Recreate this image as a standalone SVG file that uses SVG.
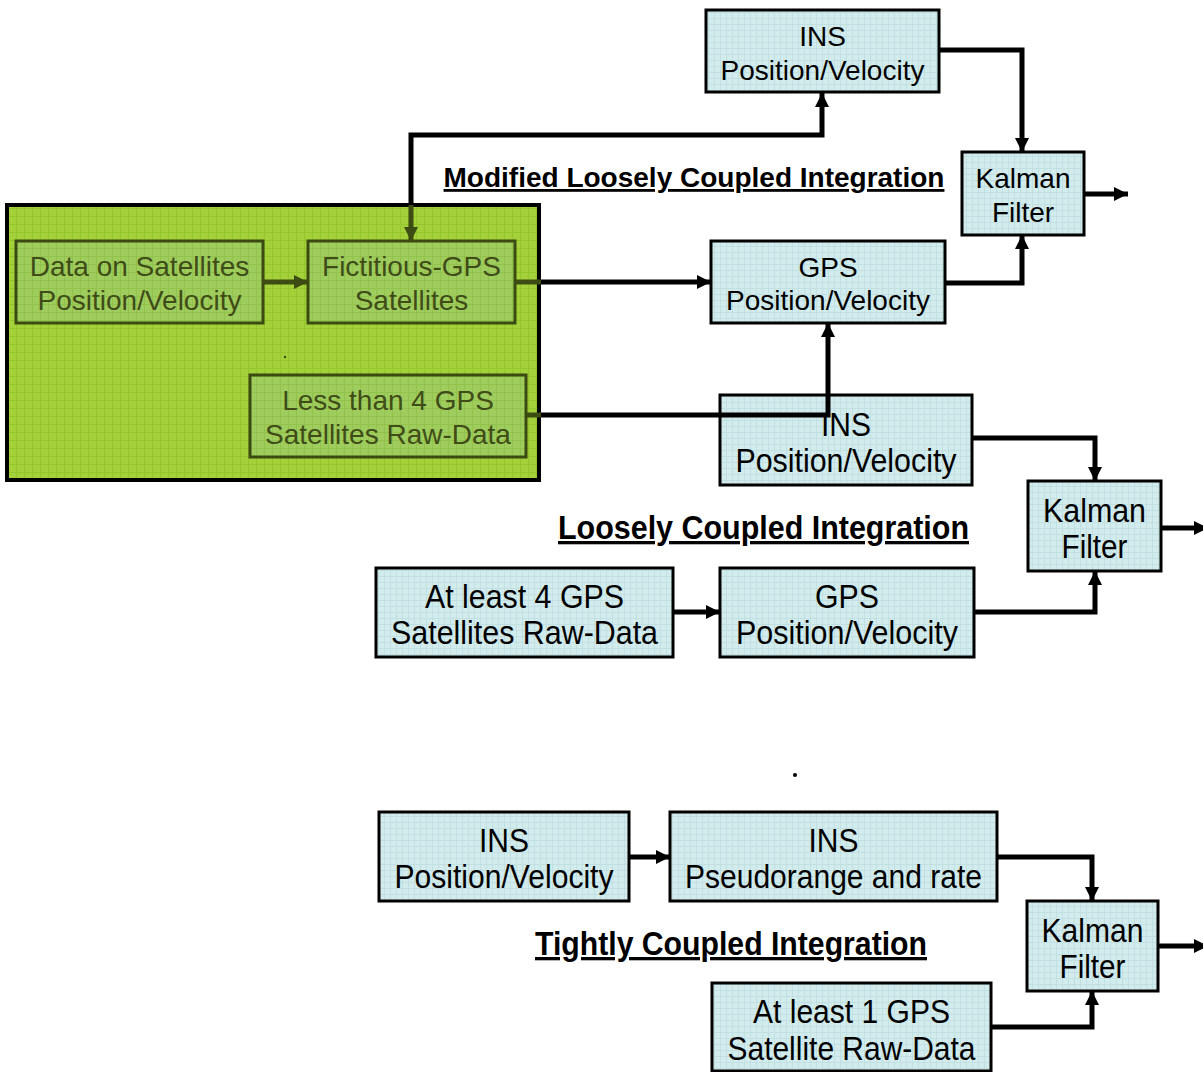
<svg xmlns="http://www.w3.org/2000/svg" width="1203" height="1072" viewBox="0 0 1203 1072">
<style>
text{font-family:"Liberation Sans",Arial,sans-serif;text-anchor:middle;fill:#000}
.t28{font-size:28px}
.t33{font-size:33px}
.title{font-weight:bold;text-decoration:underline}
.box{fill:url(#cyan);stroke:#000;stroke-width:3}
.gbox{fill:url(#gin);stroke:#3a4a10;stroke-width:3}
.gt{fill:#3f4c18;font-size:28px}
.con{fill:none;stroke:#000;stroke-width:5;stroke-linejoin:miter}
.ocon{fill:none;stroke:#3d4c12;stroke-width:5}
</style>
<defs>
<pattern id="cyan" width="6" height="6" patternUnits="userSpaceOnUse">
<rect width="6" height="6" fill="#d2ebec"/>
<path d="M0,0.5H6M0.5,0V6" stroke="#c2e0e2" stroke-width="1"/>
</pattern>
<pattern id="green" width="8" height="8" patternUnits="userSpaceOnUse">
<rect width="8" height="8" fill="#a4d13a"/>
<path d="M0,0.5H8M0.5,0V8" stroke="#94c52c" stroke-width="1"/>
</pattern>
<pattern id="gin" width="8" height="8" patternUnits="userSpaceOnUse">
<rect width="8" height="8" fill="#9ecd5e"/>
<path d="M0,0.5H8M0.5,0V8" stroke="#92c24c" stroke-width="1"/>
</pattern>
<marker id="ah" markerWidth="15" markerHeight="15" refX="14" refY="7.5" orient="auto" markerUnits="userSpaceOnUse">
<path d="M0,0.5L14,7.5L0,14.5z" fill="#000"/>
</marker>
<marker id="oah" markerWidth="15" markerHeight="15" refX="14" refY="7.5" orient="auto" markerUnits="userSpaceOnUse">
<path d="M0,0.5L14,7.5L0,14.5z" fill="#3d4c12"/>
</marker>
</defs>

<g id="green-region">
<rect x="7" y="205" width="532" height="275" fill="url(#green)" stroke="#000" stroke-width="4"/>
<circle cx="285" cy="357" r="1.2" fill="#3d4c12"/>
</g>

<g id="data-on-satellites">
<rect class="gbox" x="16" y="241" width="247" height="82"/>
<text class="gt" x="139.5" y="276">Data on Satellites</text>
<text class="gt" x="139.5" y="310">Position/Velocity</text>
</g>
<g id="fictitious-gps">
<rect class="gbox" x="308" y="241" width="207" height="82"/>
<text class="gt" x="411.5" y="276">Fictitious-GPS</text>
<text class="gt" x="411.5" y="310">Satellites</text>
</g>
<g id="less-than-4">
<rect class="gbox" x="250" y="375" width="276" height="82"/>
<text class="gt" x="388" y="410">Less than 4 GPS</text>
<text class="gt" x="388" y="444">Satellites Raw-Data</text>
</g>

<g id="ins-top">
<rect class="box" x="706" y="10" width="233" height="82"/>
<text class="t28" x="822.5" y="46">INS</text>
<text class="t28" x="822.5" y="80">Position/Velocity</text>
</g>
<g id="kalman-top">
<rect class="box" x="962" y="152" width="122" height="83"/>
<text class="t28" x="1023" y="188">Kalman</text>
<text class="t28" x="1023" y="222">Filter</text>
</g>
<g id="gps-top">
<rect class="box" x="711" y="241" width="234" height="82"/>
<text class="t28" x="828" y="277">GPS</text>
<text class="t28" x="828" y="310">Position/Velocity</text>
</g>
<g id="title-modified">
<text class="t28 title" x="694" y="187">Modified Loosely Coupled Integration</text>
</g>

<g id="ins-mid">
<rect class="box" x="720" y="395" width="252" height="90"/>
<text class="t33" x="846" y="436" textLength="50" lengthAdjust="spacingAndGlyphs">INS</text>
<text class="t33" x="846" y="472" textLength="221" lengthAdjust="spacingAndGlyphs">Position/Velocity</text>
</g>
<g id="kalman-mid">
<rect class="box" x="1028" y="481" width="133" height="90"/>
<text class="t33" x="1094.5" y="522" textLength="103" lengthAdjust="spacingAndGlyphs">Kalman</text>
<text class="t33" x="1094.5" y="558" textLength="66" lengthAdjust="spacingAndGlyphs">Filter</text>
</g>
<g id="title-loosely">
<text class="t33 title" x="763.5" y="539" textLength="411" lengthAdjust="spacingAndGlyphs">Loosely Coupled Integration</text>
</g>
<g id="atleast4">
<rect class="box" x="376" y="568" width="297" height="89"/>
<text class="t33" x="524.5" y="608" textLength="199" lengthAdjust="spacingAndGlyphs">At least 4 GPS</text>
<text class="t33" x="524.5" y="644" textLength="267" lengthAdjust="spacingAndGlyphs">Satellites Raw-Data</text>
</g>
<g id="gps-mid">
<rect class="box" x="720" y="568" width="254" height="89"/>
<text class="t33" x="847" y="608" textLength="64" lengthAdjust="spacingAndGlyphs">GPS</text>
<text class="t33" x="847" y="644" textLength="222" lengthAdjust="spacingAndGlyphs">Position/Velocity</text>
</g>

<g id="ins-bottom">
<rect class="box" x="379" y="812" width="250" height="89"/>
<text class="t33" x="504" y="852" textLength="50" lengthAdjust="spacingAndGlyphs">INS</text>
<text class="t33" x="504" y="888" textLength="219" lengthAdjust="spacingAndGlyphs">Position/Velocity</text>
</g>
<g id="ins-pseudorange">
<rect class="box" x="670" y="812" width="327" height="89"/>
<text class="t33" x="833.5" y="852" textLength="50" lengthAdjust="spacingAndGlyphs">INS</text>
<text class="t33" x="833.5" y="888" textLength="297" lengthAdjust="spacingAndGlyphs">Pseudorange and rate</text>
</g>
<g id="kalman-bottom">
<rect class="box" x="1027" y="901" width="131" height="90"/>
<text class="t33" x="1092.5" y="942" textLength="102" lengthAdjust="spacingAndGlyphs">Kalman</text>
<text class="t33" x="1092.5" y="978" textLength="66" lengthAdjust="spacingAndGlyphs">Filter</text>
</g>
<g id="title-tightly">
<text class="t33 title" x="731" y="955" textLength="392" lengthAdjust="spacingAndGlyphs">Tightly Coupled Integration</text>
</g>
<g id="atleast1">
<rect class="box" x="712" y="983" width="279" height="88"/>
<text class="t33" x="851.5" y="1023" textLength="197" lengthAdjust="spacingAndGlyphs">At least 1 GPS</text>
<text class="t33" x="851.5" y="1060" textLength="248" lengthAdjust="spacingAndGlyphs">Satellite Raw-Data</text>
</g>
<g id="dot">
<circle cx="795" cy="775" r="2" fill="#000"/>
</g>

<g id="connectors">
<path class="con" d="M411,205V135H822V93" marker-end="url(#ah)"/>
<path class="ocon" d="M411,205V241" marker-end="url(#oah)"/>
<path class="ocon" d="M263,282H308" marker-end="url(#oah)"/>
<path class="con" d="M939,50H1022V152" marker-end="url(#ah)"/>
<path class="con" d="M1084,194H1128" marker-end="url(#ah)"/>
<path class="ocon" d="M515,282H541"/>
<path class="con" d="M541,282H711" marker-end="url(#ah)"/>
<path class="con" d="M945,283H1022V235" marker-end="url(#ah)"/>
<path class="ocon" d="M526,415H541"/>
<path class="con" d="M541,415H828V323" marker-end="url(#ah)"/>
<path class="con" d="M972,438H1095V481" marker-end="url(#ah)"/>
<path class="con" d="M1161,528H1208" marker-end="url(#ah)"/>
<path class="con" d="M673,612H720" marker-end="url(#ah)"/>
<path class="con" d="M974,612H1095V571" marker-end="url(#ah)"/>
<path class="con" d="M629,857H670" marker-end="url(#ah)"/>
<path class="con" d="M997,857H1092V901" marker-end="url(#ah)"/>
<path class="con" d="M1158,946H1208" marker-end="url(#ah)"/>
<path class="con" d="M991,1027H1092V991" marker-end="url(#ah)"/>
</g>
</svg>
